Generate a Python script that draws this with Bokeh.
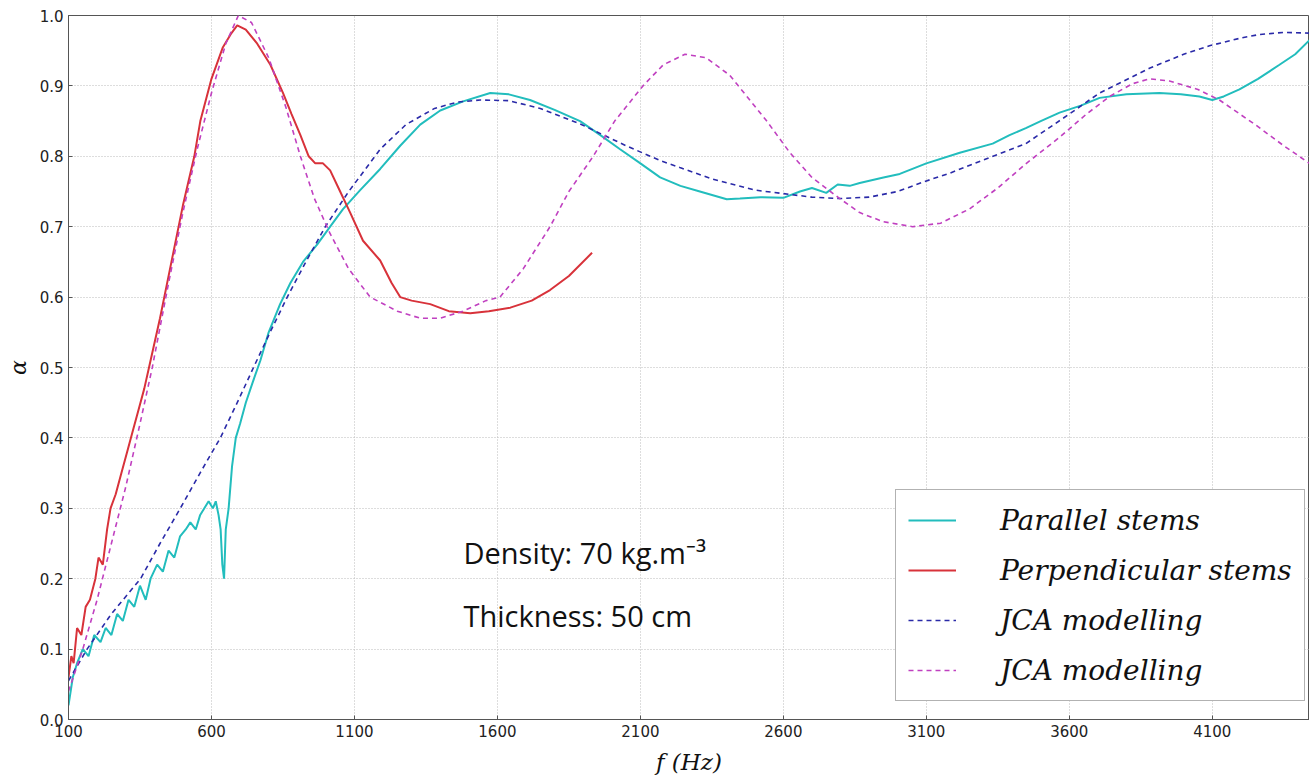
from bokeh.plotting import figure
from bokeh.models import Range1d, FixedTicker, Legend, LegendItem, Label, CustomJSTickFormatter
from bokeh.embed import file_html
from bokeh.resources import INLINE

# ---- data ----
par_f = [100, 115, 130, 150, 170, 190, 212, 230, 250, 270, 290, 310, 330, 350, 370, 387, 410, 430, 450, 470,
         490, 510, 526, 545, 560, 575, 590, 605, 615, 625, 632, 638, 644, 650, 660, 672, 685, 700, 720, 745,
         771, 800, 840, 876, 920, 970, 1015, 1060, 1120, 1190, 1260, 1330, 1400, 1480, 1575, 1640, 1714,
         1800, 1889, 1960, 2029, 2100, 2169, 2240, 2308, 2402, 2448, 2520, 2600, 2658, 2700, 2750, 2790,
         2832, 2867, 2950, 3007, 3100, 3217, 3332, 3391, 3448, 3500, 3566, 3640, 3706, 3800, 3915, 3990,
         4055, 4100, 4140, 4195, 4260, 4335, 4390, 4440]
par_a = [0.02, 0.06, 0.08, 0.10, 0.09, 0.12, 0.11, 0.13, 0.12, 0.15, 0.14, 0.17, 0.16, 0.19, 0.17, 0.20,
         0.22, 0.21, 0.24, 0.23, 0.26, 0.27, 0.28, 0.27, 0.29, 0.30, 0.31, 0.30, 0.31, 0.29, 0.27, 0.22,
         0.20, 0.27, 0.30, 0.36, 0.40, 0.42, 0.45, 0.48, 0.51, 0.55, 0.59, 0.62, 0.65, 0.675, 0.70, 0.725,
         0.752, 0.782, 0.815, 0.845, 0.865, 0.878, 0.89, 0.888, 0.88, 0.866, 0.85, 0.83, 0.81, 0.79, 0.77,
         0.758, 0.75, 0.739, 0.74, 0.742, 0.741, 0.75, 0.755, 0.748, 0.76, 0.758, 0.762, 0.77, 0.775, 0.79,
         0.805, 0.818, 0.83, 0.84, 0.85, 0.862, 0.872, 0.883, 0.888, 0.89, 0.888, 0.885, 0.88, 0.885,
         0.895, 0.91, 0.93, 0.945, 0.965]

perp_f = [100, 110, 118, 130, 145, 160, 175, 194, 205, 220, 235, 247, 265, 285, 305, 325, 345, 365, 387, 420,
          460, 500, 540, 561, 600, 640, 670, 690, 720, 760, 806, 850, 880, 911, 940, 963, 990, 1015, 1050,
          1085, 1130, 1190, 1230, 1260, 1300, 1365, 1430, 1505, 1570, 1645, 1720, 1784, 1850, 1931]
perp_a = [0.06, 0.09, 0.08, 0.13, 0.12, 0.16, 0.17, 0.20, 0.23, 0.22, 0.27, 0.30, 0.32, 0.35, 0.38, 0.41,
          0.44, 0.47, 0.51, 0.57, 0.65, 0.73, 0.80, 0.85, 0.91, 0.955, 0.975, 0.986, 0.98, 0.96, 0.93, 0.89,
          0.86, 0.83, 0.80, 0.79, 0.79, 0.78, 0.75, 0.72, 0.68, 0.652, 0.62, 0.60, 0.595, 0.59, 0.58, 0.577,
          0.58, 0.585, 0.595, 0.61, 0.63, 0.663]

jca1_f = [100, 165, 250, 352, 420, 491, 560, 631, 690, 747, 805, 865, 930, 998, 1080, 1190, 1280, 1380,
          1460, 1540, 1640, 1750, 1889, 2050, 2169, 2238, 2350, 2500, 2700, 2800, 2900, 3000, 3100, 3182,
          3300, 3448, 3600, 3706, 3880, 4000, 4090, 4200, 4265, 4350, 4440]
jca1_a = [0.055, 0.10, 0.15, 0.20, 0.25, 0.30, 0.35, 0.40, 0.45, 0.50, 0.55, 0.60, 0.65, 0.70, 0.75, 0.81,
          0.845, 0.868, 0.877, 0.88, 0.879, 0.868, 0.846, 0.815, 0.794, 0.784, 0.768, 0.752, 0.742, 0.74,
          0.742, 0.75, 0.765, 0.776, 0.795, 0.818, 0.86, 0.89, 0.925, 0.945, 0.957, 0.968, 0.973, 0.976, 0.975]

jca2_f = [100, 150, 200, 250, 300, 350, 393, 450, 500, 550, 600, 650, 694, 740, 800, 860, 911, 960, 1015,
          1080, 1155, 1250, 1330, 1400, 1480, 1560, 1609, 1690, 1784, 1850, 1935, 2010, 2109, 2180, 2256,
          2330, 2413, 2542, 2623, 2700, 2797, 2867, 2950, 3052, 3150, 3250, 3350, 3450, 3566, 3660, 3741,
          3820, 3880, 3950, 4050, 4125, 4250, 4350, 4440]
jca2_a = [0.04, 0.10, 0.17, 0.25, 0.33, 0.42, 0.50, 0.62, 0.72, 0.81, 0.89, 0.96, 1.0, 0.99, 0.94, 0.87,
          0.80, 0.74, 0.69, 0.64, 0.60, 0.58, 0.57, 0.57, 0.58, 0.595, 0.60, 0.64, 0.70, 0.75, 0.80, 0.85,
          0.90, 0.93, 0.945, 0.94, 0.915, 0.85, 0.805, 0.77, 0.74, 0.72, 0.707, 0.70, 0.705, 0.725, 0.755,
          0.79, 0.827, 0.86, 0.885, 0.903, 0.91, 0.907, 0.895, 0.88, 0.845, 0.815, 0.79]

x_ticks = [100, 600, 1100, 1600, 2100, 2600, 3100, 3600, 4100]
y_ticks = [0.0, 0.1, 0.2, 0.3, 0.4, 0.5, 0.6, 0.7, 0.8, 0.9, 1.0]

p = figure(width=1309, height=781, output_backend="svg", toolbar_location=None,
           x_range=Range1d(100, 4440), y_range=Range1d(0, 1.0))
p.min_border_left = 68
p.min_border_right = 0
p.min_border_top = 15
p.min_border_bottom = 62
p.background_fill_color = "white"
p.border_fill_color = "white"
p.outline_line_color = "#555555"
p.outline_line_width = 1

for ax in (p.xaxis[0], p.yaxis[0]):
    ax.major_label_text_font = "DejaVu Sans"
    ax.major_label_text_font_size = "15px"
    ax.major_label_text_color = "#222222"
    ax.axis_line_color = "#555555"
    ax.major_tick_line_color = "#555555"
    ax.minor_tick_line_color = None
    ax.major_tick_in = 4
    ax.major_tick_out = 0
    ax.axis_label_text_font = "DejaVu Serif"
    ax.axis_label_text_font_style = "italic"
    ax.axis_label_text_color = "#111111"

p.xaxis.ticker = FixedTicker(ticks=x_ticks)
p.yaxis.ticker = FixedTicker(ticks=y_ticks)
p.xaxis.axis_label = "f (Hz)"
p.xaxis.axis_label_text_font_size = "23px"
p.xaxis.axis_label_standoff = 9
p.yaxis.axis_label = "α"
p.yaxis.axis_label_text_font_size = "22px"
p.yaxis.axis_label_standoff = 6
p.yaxis.formatter = CustomJSTickFormatter(code="return tick.toFixed(1);")

p.xgrid.grid_line_color = "#bbbbbb"
p.ygrid.grid_line_color = "#bbbbbb"
p.xgrid.grid_line_dash = "1 2"
p.ygrid.grid_line_dash = "1 2"
p.xgrid.grid_line_width = 1
p.ygrid.grid_line_width = 1

r_par = p.line(par_f, par_a, line_color="#22bdbd", line_width=2)
r_perp = p.line(perp_f, perp_a, line_color="#d8323a", line_width=2)
r_j1 = p.line(jca1_f, jca1_a, line_color="#2a2aa8", line_width=1.6, line_dash="5 4")
r_j2 = p.line(jca2_f, jca2_a, line_color="#c040c0", line_width=1.6, line_dash="5 4")

legend = Legend(items=[
    LegendItem(label="Parallel stems", renderers=[r_par]),
    LegendItem(label="Perpendicular stems", renderers=[r_perp]),
    LegendItem(label="JCA modelling", renderers=[r_j1]),
    LegendItem(label="JCA modelling", renderers=[r_j2]),
], location=(827, 18))
legend.label_text_font = "DejaVu Serif"
legend.label_text_font_style = "italic"
legend.label_text_font_size = "28px"
legend.label_text_color = "#111111"
legend.glyph_width = 48
legend.glyph_height = 36
legend.label_height = 36
legend.spacing = 14
legend.padding = 12
legend.margin = 0
legend.label_standoff = 44
legend.border_line_color = "#666666"
legend.border_line_width = 1.5
legend.background_fill_alpha = 1.0
p.add_layout(legend, "center")

p.add_layout(Label(x=395, y=167, x_units="screen", y_units="screen",
                   text="Density: 70 kg.m⁻³", text_font="Open Sans", text_font_size="29px",
                   text_color="#111111", text_baseline="alphabetic"))
p.add_layout(Label(x=395, y=104, x_units="screen", y_units="screen",
                   text="Thickness: 50 cm", text_font="Open Sans", text_font_size="29px",
                   text_color="#111111", text_baseline="alphabetic"))

open("out.html", "w").write(file_html(p, INLINE))
